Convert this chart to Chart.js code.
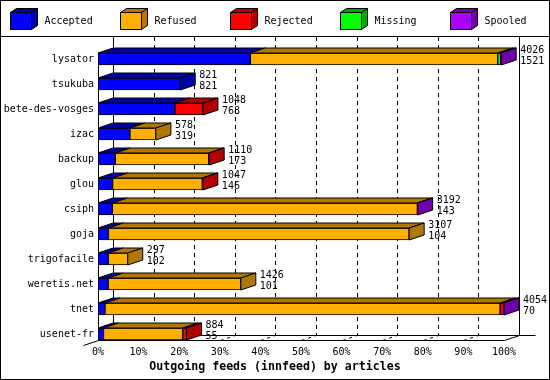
<!DOCTYPE html>
<html>
<head>
<meta charset="utf-8">
<script src="https://cdn.jsdelivr.net/npm/chart.js@4.4.1/dist/chart.umd.min.js"></script>
<style>
  html, body { margin: 0; padding: 0; background: #fff; }
  #wrap { width: 550px; height: 380px; }
</style>
</head>
<body>
<div id="wrap"><canvas id="feeds" width="550" height="380"></canvas></div>
<script>
// Outgoing feeds (innfeed) by articles
const feeds = ['lysator', 'tsukuba', 'bete-des-vosges', 'izac', 'backup', 'glou',
               'csiph', 'goja', 'trigofacile', 'weretis.net', 'tnet', 'usenet-fr'];
const accepted = [1521, 821, 768, 319, 173, 146, 143, 104, 102, 101, 70, 55];
const refused  = [2470,   0,   0, 259, 932, 895, 3046, 3003, 195, 1325, 3944, 791];
const rejected = [   0,   0, 280,   0,   5,   6,    0,    0,   0,    0,   35,  38];
const missing  = [  30,   0,   0,   0,   0,   0,    0,    0,   0,    0,    0,   0];
const spooled  = [   5,   0,   0,   0,   0,   0,    3,    0,   0,    0,    5,   0];
const seriesNames = ['Accepted', 'Refused', 'Rejected', 'Missing', 'Spooled'];
const percentTicks = [0, 10, 20, 30, 40, 50, 60, 70, 80, 90, 100];
const axisTitle = 'Outgoing feeds (innfeed) by articles';

// Colours: front face and darker top/side face
const frontColors = ['#0000FF', '#FFB000', '#FF0000', '#00FF00', '#AA00FF'];
const darkColors  = ['#0000A8', '#B07800', '#B00000', '#00A800', '#7000AA'];

const FONT = "'DejaVu Sans Mono', monospace";
const DX = 15, DY = 5;          // 3d depth offset
const BAR = 12;                 // front face thickness

const allSeries = [accepted, refused, rejected, missing, spooled];
const totals = feeds.map((f, i) => allSeries.reduce((s, arr) => s + arr[i], 0));
const maxTotal = Math.max(...totals);

const datasets = allSeries.map((arr, k) => ({
  label: seriesNames[k],
  data: arr.map(v => v || null),
  backgroundColor: frontColors[k],
  borderColor: '#000',
  borderWidth: 1,
  borderSkipped: false,
  barThickness: BAR
}));

function line(ctx, x1, y1, x2, y2) {
  ctx.beginPath();
  ctx.moveTo(x1, y1);
  ctx.lineTo(x2, y2);
  ctx.stroke();
}

function poly(ctx, pts, fill) {
  ctx.beginPath();
  ctx.moveTo(pts[0][0], pts[0][1]);
  for (let i = 1; i < pts.length; i++) ctx.lineTo(pts[i][0], pts[i][1]);
  ctx.closePath();
  ctx.fillStyle = fill;
  ctx.fill();
  ctx.stroke();
}

const bars3d = {
  id: 'bars3d',
  beforeDatasetsDraw(chart) {
    const ctx = chart.ctx;
    const xs = chart.scales.x, ys = chart.scales.y;
    const top = 37;
    const floorFront = Math.round(ys.getPixelForValue(feeds.length - 1) + BAR / 2);
    const floorBack = floorFront - DY;
    const firstTop = ys.getPixelForValue(0) - BAR / 2;
    ctx.save();
    ctx.strokeStyle = '#000';
    ctx.lineWidth = 1;
    // back grid lines
    xs.ticks.forEach((t, i) => {
      const x = Math.round(xs.getPixelForValue(t.value)) + DX + 0.5;
      const solid = i === 0 || i === xs.ticks.length - 1;
      ctx.setLineDash(solid ? [] : [4, 4]);
      line(ctx, x, top, x, floorBack + 0.5);
      // floor depth marks
      if (!solid) {
        ctx.setLineDash([3, 4]);
        const fx = Math.round(xs.getPixelForValue(t.value)) + 0.5;
        line(ctx, fx, floorFront + 0.5, fx + DX, floorBack + 0.5);
      }
    });
    ctx.setLineDash([]);
    const x0 = Math.round(xs.getPixelForValue(0)) + 0.5;
    const x1 = Math.round(xs.getPixelForValue(maxTotal)) + 0.5;
    // front left axis and floor
    line(ctx, x0, firstTop, x0, floorFront + 0.5);
    line(ctx, x0, floorFront + 0.5, x1, floorFront + 0.5);
    line(ctx, x0 + DX, floorBack + 0.5, x1 + DX + 16, floorBack + 0.5);
    line(ctx, x0 - DX, floorFront + 5.5, x0 + DX, floorBack + 0.5);
    line(ctx, x1, floorFront + 0.5, x1 + DX, floorBack + 0.5);
    ctx.restore();
  },
  afterDatasetsDraw(chart) {
    const ctx = chart.ctx;
    ctx.save();
    ctx.strokeStyle = '#000';
    ctx.lineWidth = 1;
    feeds.forEach((f, i) => {
      let last = null;
      chart.data.datasets.forEach((ds, k) => {
        if (ds.data[i] == null) return;
        const el = chart.getDatasetMeta(k).data[i];
        const p = el.getProps(['x', 'y', 'base', 'height'], true);
        const l = Math.min(p.x, p.base), r = Math.max(p.x, p.base);
        const t = p.y - p.height / 2;
        poly(ctx, [[l, t], [r, t], [r + DX, t - DY], [l + DX, t - DY]], darkColors[k]);
        last = { p, k, r, t, b: p.y + p.height / 2 };
      });
      if (!last) return;
      poly(ctx, [[last.r, last.t], [last.r + DX, last.t - DY],
                 [last.r + DX, last.b - DY], [last.r, last.b]], darkColors[last.k]);
      ctx.fillStyle = '#000';
      ctx.font = '10px ' + FONT;
      ctx.textAlign = 'left';
      ctx.textBaseline = 'middle';
      const tx = last.r + DX + 4;
      ctx.fillText(String(totals[i]), tx, last.p.y - 9);
      ctx.fillText(String(accepted[i]), tx, last.p.y + 2.5);
    });
    ctx.restore();
  },
  afterDraw(chart) {
    const ctx = chart.ctx;
    ctx.save();
    ctx.strokeStyle = '#000';
    ctx.lineWidth = 1;
    // legend
    chart.data.datasets.forEach((ds, k) => {
      const x = 10.5 + 110 * k, y = 12.5, w = 21, h = 17;
      poly(ctx, [[x, y], [x + w, y], [x + w + 6, y - 4], [x + 6, y - 4]], darkColors[k]);
      poly(ctx, [[x + w, y], [x + w + 6, y - 4], [x + w + 6, y + h - 4], [x + w, y + h]], darkColors[k]);
      ctx.fillStyle = frontColors[k];
      ctx.fillRect(x, y, w, h);
      ctx.strokeRect(x, y, w, h);
      ctx.fillStyle = '#000';
      ctx.font = '10px ' + FONT;
      ctx.textAlign = 'left';
      ctx.textBaseline = 'middle';
      ctx.fillText(ds.label, x + 34, 21);
    });
    line(ctx, 0, 36.5, 550, 36.5);
    // axis title
    ctx.fillStyle = '#000';
    ctx.font = 'bold 11.6px ' + FONT;
    ctx.textAlign = 'center';
    ctx.textBaseline = 'middle';
    ctx.fillText(axisTitle, 275, 367);
    ctx.strokeRect(0.5, 0.5, 549, 379);
    ctx.restore();
  }
};

new Chart(document.getElementById('feeds'), {
  type: 'bar',
  data: { labels: feeds, datasets: datasets },
  options: {
    indexAxis: 'y',
    responsive: false,
    animation: false,
    devicePixelRatio: 1,
    layout: { padding: { top: 46.5, right: 46, bottom: 0, left: 0 } },
    plugins: { legend: { display: false }, tooltip: { enabled: false } },
    scales: {
      x: {
        stacked: true,
        min: 0,
        max: maxTotal,
        grid: { display: false, drawTicks: false },
        border: { display: false },
        afterBuildTicks(scale) {
          scale.ticks = percentTicks.map(p => ({ value: maxTotal * p / 100 }));
        },
        afterFit(scale) { scale.height = 33.5; },
        ticks: {
          autoSkip: false,
          maxRotation: 0,
          padding: 0,
          color: '#000',
          font: { family: FONT, size: 10 },
          callback: (v, i) => percentTicks[i] + '%'
        }
      },
      y: {
        stacked: true,
        grid: { display: false, drawTicks: false },
        border: { display: false },
        afterFit(scale) { scale.width = 98; },
        ticks: {
          padding: 4,
          color: '#000',
          font: { family: FONT, size: 10 }
        }
      }
    }
  },
  plugins: [bars3d]
});
</script>
</body>
</html>
